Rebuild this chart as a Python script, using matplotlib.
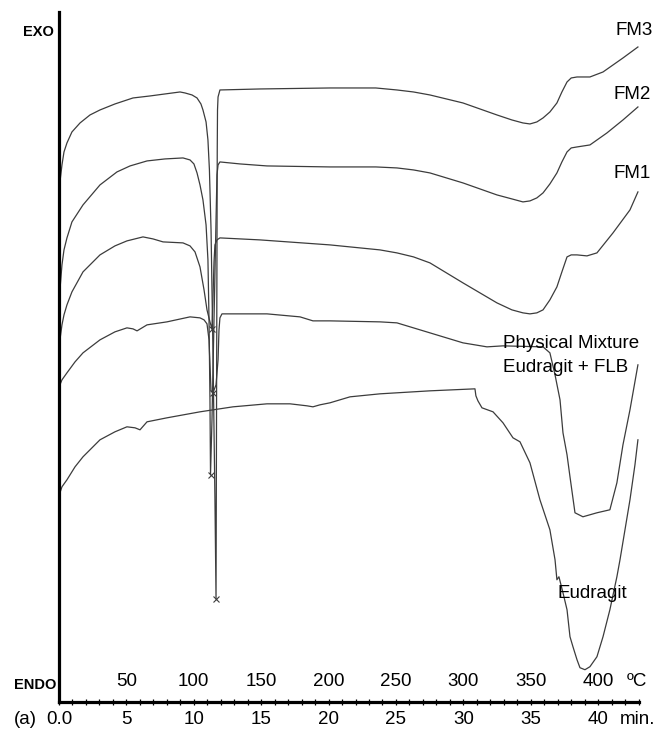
import numpy as np
import matplotlib
matplotlib.use('Agg')
import matplotlib.pyplot as plt

plt.rcParams['font.family'] = ['Liberation Sans', 'DejaVu Sans']

# DSC traces: time (min) vs heat flow (arbitrary units, exo up)
fm3_t = [0.07, 0.22, 0.37, 0.59, 0.96, 1.56, 2.30, 3.04, 4.15, 5.49, 6.75, 7.86, 8.98, 9.35,
         9.87, 10.24, 10.53, 10.68, 10.91, 11.05, 11.16, 11.28, 11.42, 11.57, 11.65, 11.68,
         11.72, 11.74, 11.76, 11.80, 11.94, 14.91, 20.10, 23.5, 25.07, 26.3, 27.52, 29.97, 32.49,
         33.6, 34.42, 34.94, 35.45, 35.91, 36.42, 36.94, 37.31, 37.69, 38.0, 38.43, 39.39, 40.36,
         41.84, 42.95]
fm3_q = [520, 537, 550, 559, 570, 579, 587, 592, 598, 604, 606, 608, 610, 609,
         607, 604, 598, 592, 580, 562, 532, 472, 352, 202, 103, 252,
         452, 552, 592, 605, 612, 613, 614, 614, 612, 610, 607, 599, 587,
         582, 579, 578, 580, 584, 590, 599, 610, 620, 624, 625, 625, 630,
         644, 655]

fm2_t = [0.07, 0.22, 0.37, 0.59, 0.96, 1.78, 3.04, 4.30, 5.27, 6.53, 7.86, 9.20, 9.72, 10.01,
         10.24, 10.46, 10.68, 10.91, 11.05, 11.13, 11.20, 11.24, 11.35, 11.50, 11.65, 11.72,
         11.80, 11.94, 13.43, 15.43, 20.10, 23.5, 25.07, 26.3, 27.52, 29.97, 32.49, 33.6, 34.42,
         34.94, 35.45, 35.91, 36.42, 36.94, 37.31, 37.69, 38.0, 38.43, 39.39, 40.65, 41.84, 42.95]
fm2_q = [412, 437, 452, 464, 480, 497, 517, 530, 536, 541, 543, 544, 542, 538,
         529, 517, 502, 477, 442, 382, 302, 227, 282, 382, 482, 527,
         537, 540, 538, 536, 535, 535, 534, 532, 529, 519, 507, 503, 500,
         501, 504, 509, 518, 529, 540, 550, 554, 555, 557, 569, 582, 595]

fm1_t = [0.07, 0.22, 0.37, 0.59, 0.96, 1.78, 3.04, 4.15, 5.04, 6.23, 6.97, 7.72, 9.20, 9.72,
         10.09, 10.46, 10.76, 10.98, 11.20, 11.35, 11.42, 11.50, 11.57, 11.72, 11.94, 14.91,
         20.10, 23.81, 25.07, 26.3, 27.52, 29.97, 32.49, 33.6, 34.42, 34.94, 35.45, 35.91, 36.42,
         36.94, 37.31, 37.69, 38.0, 38.43, 39.17, 39.91, 41.10, 42.36, 42.95]
fm1_q = [362, 377, 387, 397, 410, 430, 447, 456, 461, 465, 463, 460, 459, 456,
         450, 435, 412, 392, 380, 373, 402, 440, 457, 462, 464, 462,
         457, 452, 449, 445, 439, 419, 399, 392, 389, 388, 389, 392, 402,
         415, 430, 445, 447, 447, 446, 449, 469, 492, 510]

pm_t = [0.07, 0.22, 0.59, 1.19, 1.78, 3.04, 4.15, 5.04, 5.49, 5.79, 6.16, 6.53, 8.01, 9.72,
        10.46, 10.76, 10.98, 11.13, 11.20, 11.28, 11.42, 11.65, 11.80, 11.87, 11.94, 12.09,
        15.43, 17.88, 18.84, 20.10, 23.81, 25.07, 27.52, 29.97, 31.75, 32.94, 35.91, 36.42,
        36.80, 37.17, 37.39, 37.69, 37.91, 38.28, 38.87, 39.91, 40.87, 41.39, 41.84, 42.36, 42.95]
pm_q = [317, 322, 329, 340, 349, 362, 370, 374, 373, 371, 374, 377, 380, 385,
        384, 382, 378, 362, 337, 311, 309, 317, 342, 372, 384, 388,
        388, 385, 381, 381, 380, 379, 369, 359, 355, 356, 355, 349,
        327, 302, 269, 247, 225, 189, 185, 189, 192, 219, 257, 292, 337]

eud_t = [0.07, 0.22, 0.59, 1.19, 1.78, 3.04, 4.15, 5.04, 5.64, 6.01, 6.53, 8.01, 10.46, 12.91,
         15.43, 17.14, 18.40, 18.84, 19.36, 20.10, 21.59, 23.81, 27.52, 30.86, 30.93, 31.08,
         31.38, 32.20, 32.94, 33.68, 34.20, 34.94, 35.68, 36.42, 36.80, 36.94, 37.09, 37.24,
         37.39, 37.69, 37.91, 38.13, 38.43, 38.65, 39.02, 39.39, 39.91, 40.36, 40.87, 41.39,
         41.62, 41.99, 42.36, 42.73, 42.95]
eud_q = [209, 215, 222, 235, 245, 262, 270, 275, 274, 272, 280, 284, 290, 295,
         298, 298, 296, 295, 297, 299, 305, 308, 311, 313, 306, 301,
         294, 290, 279, 264, 260, 239, 202, 172, 142, 122, 125, 117,
         109, 92, 65, 55, 42, 34, 32, 35, 45, 65, 92, 125,
         142, 172, 202, 237, 262]

time_ticks = [0, 5, 10, 15, 20, 25, 30, 35, 40]
time_labels = ['0.0', '5', '10', '15', '20', '25', '30', '35', '40']
temp_labels = ['50', '100', '150', '200', '250', '300', '350', '400']

curves = [(fm3_t, fm3_q), (fm2_t, fm2_q), (fm1_t, fm1_q), (pm_t, pm_q), (eud_t, eud_q)]
has_peak = [True, True, True, True, False]

fig = plt.figure(figsize=(6.57, 7.29), dpi=100)
ax = fig.add_axes([59/657, 1 - 701.7/729, 580/657, 689.7/729])

lc = '#3c3c3c'
fs = 13.5
for (t, q), pk in zip(curves, has_peak):
    t = np.array(t)
    q = np.array(q)
    ax.plot(t, q, color=lc, lw=0.9)
    if pk:
        # mark the melting peak minimum with an x
        win = (t > 10) & (t < 13)
        i = np.argmin(np.where(win, q, np.inf))
        ax.plot(t[i], q[i], marker='x', ms=5, mew=0.8, color=lc)

ax.set_xlim(0, 43.03)
ax.set_ylim(0, 690)
for s in ['top', 'right']:
    ax.spines[s].set_visible(False)
ax.spines['left'].set_linewidth(2.3)
ax.spines['bottom'].set_linewidth(2.3)
ax.set_yticks([])
ax.set_xticks(time_ticks)
ax.set_xticklabels(time_labels)
ax.set_xticks(np.arange(0, 44, 1), minor=True)
ax.tick_params(axis='x', which='both', direction='inout', length=4, width=0.9,
               labelsize=fs, pad=4.5)

# temperature scale drawn above the time axis
xtr = ax.get_xaxis_transform()
for tt, lab in zip(time_ticks[1:], temp_labels):
    ax.text(tt, 0.0286, lab, transform=xtr, ha='center', va='center', fontsize=fs)
ax.text(42.88, 0.0286, 'ºC', transform=xtr, ha='center', va='center', fontsize=fs)
ax.text(42.95, -0.0265, 'min.', transform=xtr, ha='center', va='center', fontsize=fs)

ax.text(42.66, 671, 'FM3', ha='center', va='center', fontsize=fs)
ax.text(42.5, 607, 'FM2', ha='center', va='center', fontsize=fs)
ax.text(42.5, 528, 'FM1', ha='center', va='center', fontsize=fs)
ax.text(32.94, 358, 'Physical Mixture', ha='left', va='center', fontsize=fs)
ax.text(32.94, 334, 'Eudragit + FLB', ha='left', va='center', fontsize=fs)
ax.text(37.0, 108, 'Eudragit', ha='left', va='center', fontsize=fs)

fig.text(54/657, 1 - 32/729, 'EXO', ha='right', va='center', fontsize=10.5, fontweight='bold')
fig.text(56/657, 1 - 685/729, 'ENDO', ha='right', va='center', fontsize=10.5, fontweight='bold')
fig.text(25/657, 1 - 720/729, '(a)', ha='center', va='center', fontsize=fs)

fig.savefig('out.png', dpi=100)
